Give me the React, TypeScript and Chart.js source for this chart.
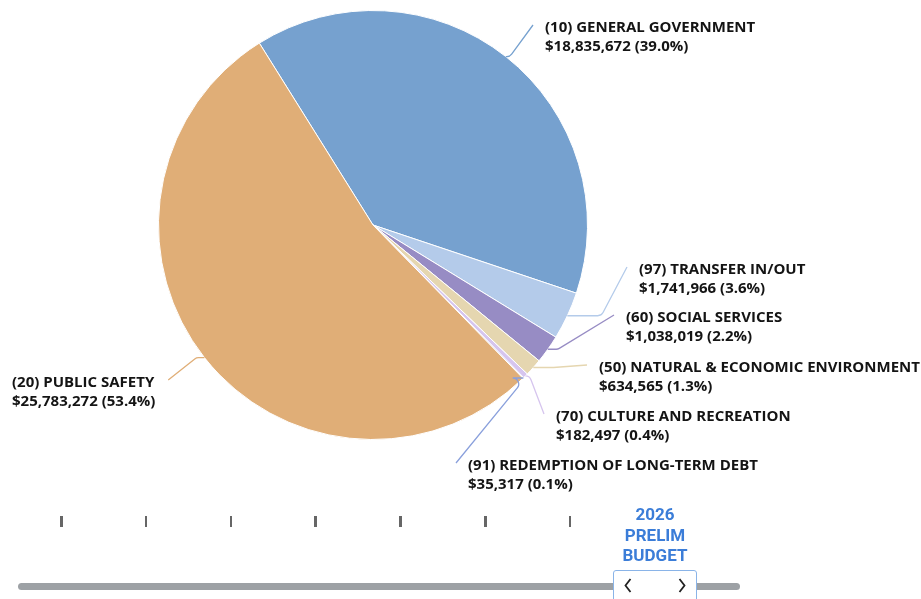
import React, { useEffect, useRef } from "react";
import { Chart, registerables } from "chart.js";

Chart.register(...registerables);

const categories = [
  "(10) GENERAL GOVERNMENT",
  "(97) TRANSFER IN/OUT",
  "(60) SOCIAL SERVICES",
  "(50) NATURAL & ECONOMIC ENVIRONMENT",
  "(70) CULTURE AND RECREATION",
  "(91) REDEMPTION OF LONG-TERM DEBT",
  "(20) PUBLIC SAFETY",
];
const amounts = [18835672, 1741966, 1038019, 634565, 182497, 35317, 25783272];
const sliceColors = ["#76a1cf", "#b4cbea", "#978cc4", "#e5d6b0", "#d6c5ee", "#8aa0dc", "#e0ae77"];
const timelineLabel = ["2026", "PRELIM", "BUDGET"];
const timelineTickCount = 7;

// label layout: [textX, firstLineCenterY, side(1 right / -1 left), crook length]
const labelLayout: [number, number, number, number][] = [
  [545, 28, 1, 4],
  [639, 270, 1, 34],
  [626, 318, 1, 10],
  [599, 368, 1, 20],
  [556, 417, 1, 4],
  [468, 466, 1, 2],
  [12, 383, -1, 8],
];

const LABEL_FONT = "bold 15px 'Open Sans', sans-serif";

const labelPlugin = {
  id: "pieLabels",
  afterDatasetsDraw(chart: any) {
    const ctx = chart.ctx;
    const meta = chart.getDatasetMeta(0);
    const total = amounts.reduce((a, b) => a + b, 0);
    ctx.save();
    ctx.font = LABEL_FONT;
    meta.data.forEach((arc: any, i: number) => {
      const p = arc.getProps(["x", "y", "startAngle", "endAngle", "outerRadius"], true);
      const mid = (p.startAngle + p.endAngle) / 2;
      const x0 = p.x + Math.cos(mid) * p.outerRadius;
      const y0 = p.y + Math.sin(mid) * p.outerRadius;
      const [tx, ty, side, crook] = labelLayout[i];
      const line1 = categories[i];
      const pct = ((amounts[i] / total) * 100).toFixed(1);
      const line2 = "$" + amounts[i].toLocaleString("en-US") + " (" + pct + "%)";
      const w1 = ctx.measureText(line1).width;
      const ex = side > 0 ? tx - 12 : tx + w1 + 14;
      const ey = ty - 3;
      const cx = x0 + side * crook;
      const cy = y0;
      ctx.beginPath();
      ctx.strokeStyle = sliceColors[i];
      ctx.lineWidth = 1.3;
      ctx.moveTo(x0, y0);
      ctx.arcTo(cx, cy, ex, ey, 6);
      ctx.lineTo(ex, ey);
      ctx.stroke();
      ctx.fillStyle = "#141414";
      ctx.textBaseline = "middle";
      ctx.textAlign = "left";
      ctx.fillText(line1, tx, ty);
      ctx.fillText(line2, tx, ty + 19);
    });
    ctx.restore();
  },
};

function PieChart() {
  const ref = useRef<HTMLCanvasElement | null>(null);
  useEffect(() => {
    if (!ref.current) return;
    const chart = new Chart(ref.current, {
      type: "pie",
      data: {
        labels: categories,
        datasets: [
          {
            data: amounts,
            backgroundColor: sliceColors,
            borderColor: "#ffffff",
            borderWidth: 1,
          },
        ],
      },
      options: {
        animation: false,
        responsive: true,
        maintainAspectRatio: false,
        rotation: -32,
        layout: { padding: { left: 0, right: 175, top: 10, bottom: 159 } },
        plugins: {
          legend: { display: false },
          tooltip: { enabled: false },
        },
      },
      plugins: [labelPlugin],
    });
    return () => chart.destroy();
  }, []);
  return (
    <div style={{ position: "absolute", left: 0, top: 0, width: 921, height: 599 }}>
      <canvas ref={ref} />
    </div>
  );
}

function Chevron({ dir }: { dir: number }) {
  const pts = dir < 0 ? "6.5,1 1.5,7.5 6.5,14" : "1.5,1 6.5,7.5 1.5,14";
  return (
    <svg width="8" height="15" viewBox="0 0 8 15" style={{ display: "block" }}>
      <polyline points={pts} fill="none" stroke="#222" strokeWidth="1.8" />
    </svg>
  );
}

function Timeline() {
  const ticks = Array.from({ length: timelineTickCount }, (_, i) => i);
  return (
    <div style={{ position: "absolute", left: 0, top: 470, width: 921, height: 129 }}>
      {ticks.map((i) => (
        <div
          key={i}
          style={{
            position: "absolute",
            left: 60 + i * 84.8,
            top: 46,
            width: 2.5,
            height: 11,
            background: "#666",
          }}
        />
      ))}
      <div
        style={{
          position: "absolute",
          left: 595,
          width: 120,
          top: 34,
          textAlign: "center",
          color: "#3b7dd8",
          fontFamily: "Roboto, sans-serif",
          fontWeight: 700,
          fontSize: 17,
          lineHeight: "20.5px",
        }}
      >
        {timelineLabel.map((t) => (
          <div key={t}>{t}</div>
        ))}
      </div>
      <div
        style={{
          position: "absolute",
          left: 18,
          top: 113,
          width: 722,
          height: 7,
          borderRadius: 4,
          background: "#9da1a5",
        }}
      />
      <div
        style={{
          position: "absolute",
          left: 613,
          top: 100,
          width: 84,
          height: 40,
          background: "#fff",
          border: "1px solid #8ab4e8",
          borderRadius: 3,
          boxSizing: "border-box",
        }}
      >
        <div style={{ position: "absolute", left: 10, top: 7 }}>
          <Chevron dir={-1} />
        </div>
        <div style={{ position: "absolute", left: 64, top: 7 }}>
          <Chevron dir={1} />
        </div>
      </div>
    </div>
  );
}

export default function App() {
  return (
    <div style={{ position: "fixed", left: 0, top: 0, width: 921, height: 599, overflow: "hidden" }}>
      <PieChart />
      <Timeline />
    </div>
  );
}
